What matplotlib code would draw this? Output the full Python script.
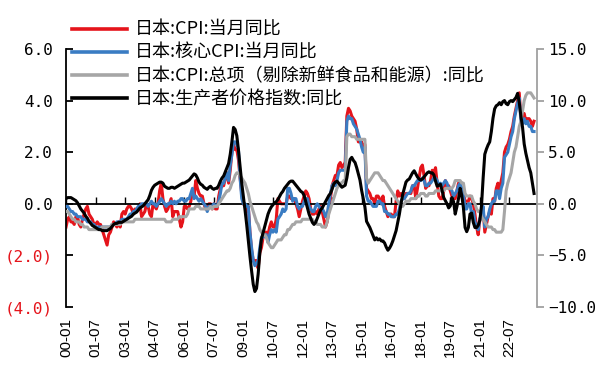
import numpy as np
import pandas as pd
import matplotlib
matplotlib.use("Agg")
import matplotlib.pyplot as plt
from matplotlib.lines import Line2D

# Monthly series, 2000-01 .. 2023-10 (year-on-year, %)
months = pd.period_range("2000-01", "2023-10", freq="M")

cpi = [
    -0.9, -0.6, -0.5, -0.7, -0.7, -0.8, -0.5, -0.5, -0.8, -0.9, -0.6, -0.4,   # 2000
    -0.2, -0.1, -0.4, -0.5, -0.6, -0.8, -0.8, -0.7, -0.8, -0.8, -1.0, -1.2,   # 2001
    -1.4, -1.6, -1.2, -1.1, -0.9, -0.7, -0.8, -0.9, -0.7, -0.9, -0.4, -0.3,   # 2002
    -0.4, -0.2, -0.1, -0.1, -0.2, -0.4, -0.2, -0.3, -0.2, 0.0, -0.5, -0.4,    # 2003
    -0.3, 0.0, -0.1, -0.4, -0.5, 0.0, -0.1, -0.2, 0.0, 0.5, 0.8, 0.2,         # 2004
    -0.1, -0.3, -0.2, 0.0, 0.2, -0.5, -0.3, -0.3, -0.3, -0.6, -0.9, -0.7,     # 2005
    -0.1, -0.1, -0.2, -0.1, 0.1, 0.5, 0.3, 0.9, 0.6, 0.4, 0.3, 0.3,           # 2006
    0.0, -0.2, -0.1, 0.0, 0.0, -0.2, 0.0, -0.2, -0.2, 0.3, 0.6, 0.7,          # 2007
    0.7, 1.0, 1.2, 0.8, 1.3, 2.0, 2.3, 2.1, 2.1, 1.7, 1.0, 0.4,               # 2008
    0.0, -0.1, -0.3, -0.1, -1.1, -1.8, -2.2, -2.2, -2.2, -2.5, -1.9, -1.7,    # 2009
    -1.3, -1.1, -1.1, -1.2, -0.9, -0.7, -0.9, -0.9, -0.6, 0.2, 0.1, 0.0,      # 2010
    0.0, 0.0, 0.0, 0.3, 0.3, 0.2, 0.2, 0.2, 0.0, -0.2, -0.5, -0.2,            # 2011
    0.1, 0.3, 0.5, 0.4, 0.2, -0.2, -0.4, -0.4, -0.3, -0.4, -0.2, -0.1,        # 2012
    -0.3, -0.6, -0.9, -0.7, -0.3, 0.2, 0.7, 0.9, 1.1, 1.1, 1.5, 1.6,          # 2013
    1.4, 1.5, 1.6, 3.4, 3.7, 3.6, 3.4, 3.3, 3.2, 2.9, 2.4, 2.4,               # 2014
    2.4, 2.2, 2.3, 0.6, 0.5, 0.4, 0.2, 0.2, 0.0, 0.3, 0.3, 0.2,               # 2015
    0.0, 0.3, -0.1, -0.3, -0.5, -0.4, -0.4, -0.5, -0.5, 0.1, 0.5, 0.3,        # 2016
    0.4, 0.3, 0.2, 0.4, 0.4, 0.4, 0.4, 0.7, 0.7, 0.2, 0.6, 1.0,               # 2017
    1.4, 1.5, 1.1, 0.6, 0.7, 0.7, 0.9, 1.3, 1.2, 1.4, 0.8, 0.3,               # 2018
    0.2, 0.2, 0.5, 0.9, 0.7, 0.7, 0.5, 0.3, 0.2, 0.2, 0.5, 0.8,               # 2019
    0.7, 0.4, 0.4, 0.1, 0.1, 0.1, 0.3, 0.2, 0.0, -0.4, -0.9, -1.2,            # 2020
    -0.6, -0.4, -0.2, -1.1, -0.8, -0.5, -0.3, -0.4, 0.2, 0.1, 0.6, 0.8,       # 2021
    0.5, 0.9, 1.2, 2.0, 2.2, 2.3, 2.5, 2.8, 3.0, 3.4, 3.7, 4.0,               # 2022
    4.3, 3.3, 3.2, 3.5, 3.2, 3.3, 3.3, 3.2, 3.0, 3.2,                         # 2023
]

core_cpi = [
    -0.1, -0.1, -0.2, -0.3, -0.3, -0.4, -0.4, -0.5, -0.5, -0.5, -0.6, -0.6,   # 2000
    -0.6, -0.7, -0.7, -0.7, -0.8, -0.8, -0.9, -0.9, -0.9, -0.9, -0.9, -0.9,   # 2001
    -0.9, -0.9, -0.9, -0.9, -0.8, -0.8, -0.8, -0.7, -0.7, -0.7, -0.6, -0.6,   # 2002
    -0.6, -0.6, -0.5, -0.4, -0.4, -0.3, -0.3, -0.2, -0.1, -0.1, 0.0, 0.0,     # 2003
    0.0, 0.0, -0.1, 0.0, 0.1, 0.0, 0.0, -0.1, 0.0, 0.1, 0.2, 0.1,             # 2004
    0.0, -0.1, 0.0, 0.0, 0.1, 0.0, 0.1, 0.0, 0.1, 0.1, 0.2, 0.2,              # 2005
    0.1, 0.1, 0.2, 0.2, 0.4, 0.6, 0.2, 0.3, 0.2, 0.1, 0.2, 0.1,               # 2006
    0.0, -0.1, -0.3, -0.1, -0.1, -0.1, 0.0, -0.1, -0.1, 0.1, 0.4, 0.8,        # 2007
    0.8, 1.0, 1.2, 0.9, 1.5, 1.9, 2.4, 2.4, 2.3, 2.1, 1.0, 0.2,               # 2008
    0.0, 0.0, -0.1, -0.1, -1.1, -1.7, -2.2, -2.4, -2.3, -2.2, -1.7, -1.3,     # 2009
    -1.3, -1.2, -1.2, -1.5, -1.2, -1.0, -1.1, -1.0, -1.1, -0.6, -0.5, -0.4,   # 2010
    -0.2, -0.3, -0.2, 0.6, 0.6, 0.4, 0.1, 0.2, 0.2, -0.1, -0.2, -0.1,         # 2011
    -0.1, 0.1, 0.2, 0.2, -0.1, -0.2, -0.3, -0.3, -0.1, 0.0, -0.1, -0.2,       # 2012
    -0.2, -0.3, -0.5, -0.4, 0.0, 0.4, 0.7, 0.8, 0.7, 0.9, 1.2, 1.3,           # 2013
    1.3, 1.3, 1.3, 3.2, 3.4, 3.3, 3.3, 3.1, 3.0, 2.9, 2.7, 2.5,               # 2014
    2.2, 2.0, 2.2, 0.3, 0.1, 0.1, 0.0, -0.1, -0.1, -0.1, 0.1, 0.1,            # 2015
    0.0, 0.0, -0.3, -0.3, -0.4, -0.4, -0.5, -0.5, -0.5, -0.4, -0.4, -0.2,     # 2016
    0.1, 0.2, 0.2, 0.3, 0.4, 0.4, 0.5, 0.7, 0.7, 0.8, 0.9, 0.9,               # 2017
    0.9, 1.0, 0.9, 0.7, 0.7, 0.8, 0.8, 0.9, 1.0, 1.0, 0.9, 0.7,               # 2018
    0.8, 0.7, 0.8, 0.9, 0.8, 0.6, 0.6, 0.5, 0.3, 0.4, 0.5, 0.7,               # 2019
    0.8, 0.6, 0.4, -0.2, -0.2, 0.0, 0.0, -0.4, -0.3, -0.7, -0.9, -1.0,        # 2020
    -0.6, -0.4, -0.1, -0.9, -0.6, -0.5, -0.2, 0.0, 0.1, 0.1, 0.5, 0.5,        # 2021
    0.2, 0.6, 0.8, 1.8, 1.9, 2.0, 2.3, 2.6, 2.8, 3.3, 3.6, 3.9,               # 2022
    4.1, 3.2, 3.1, 3.3, 3.1, 3.2, 3.0, 3.0, 2.8, 2.8,                         # 2023
]

cpi_ex_food_energy = [
    -0.3, -0.3, -0.4, -0.5, -0.6, -0.6, -0.7, -0.7, -0.7, -0.8, -0.8, -0.9,   # 2000
    -0.9, -0.9, -1.0, -1.0, -1.0, -1.0, -1.0, -1.0, -1.0, -1.0, -0.9, -0.9,   # 2001
    -0.9, -0.9, -0.9, -0.9, -0.8, -0.8, -0.8, -0.8, -0.8, -0.8, -0.7, -0.7,   # 2002
    -0.7, -0.7, -0.7, -0.7, -0.7, -0.7, -0.6, -0.6, -0.6, -0.6, -0.6, -0.6,   # 2003
    -0.6, -0.6, -0.6, -0.6, -0.6, -0.6, -0.6, -0.6, -0.6, -0.6, -0.6, -0.6,   # 2004
    -0.6, -0.7, -0.7, -0.7, -0.7, -0.6, -0.6, -0.6, -0.6, -0.5, -0.5, -0.5,   # 2005
    -0.5, -0.5, -0.4, -0.2, -0.2, -0.2, -0.2, -0.1, -0.1, -0.1, -0.2, -0.2,   # 2006
    -0.2, -0.2, -0.2, -0.2, -0.1, -0.2, -0.1, -0.1, -0.1, 0.0, 0.1, 0.2,      # 2007
    0.3, 0.4, 0.5, 0.5, 0.6, 0.8, 0.9, 1.1, 1.2, 1.2, 1.1, 1.0,               # 2008
    0.9, 0.8, 0.6, 0.4, 0.1, -0.1, -0.3, -0.5, -0.7, -0.8, -1.0, -1.1,        # 2009
    -1.2, -1.2, -1.3, -1.5, -1.6, -1.7, -1.7, -1.6, -1.5, -1.4, -1.4, -1.4,   # 2010
    -1.3, -1.2, -1.2, -1.0, -1.0, -0.9, -0.8, -0.8, -0.7, -0.7, -0.7, -0.7,   # 2011
    -0.6, -0.6, -0.6, -0.6, -0.6, -0.6, -0.6, -0.7, -0.7, -0.8, -0.8, -0.8,   # 2012
    -0.9, -0.9, -0.9, -0.7, -0.4, -0.2, 0.0, 0.2, 0.4, 0.6, 0.7, 0.8,         # 2013
    0.8, 0.9, 0.9, 2.6, 2.7, 2.7, 2.6, 2.6, 2.6, 2.5, 2.5, 2.5,               # 2014
    2.5, 2.5, 2.5, 1.0, 0.8, 0.9, 1.0, 1.1, 1.2, 1.2, 1.2, 1.1,               # 2015
    1.0, 0.9, 0.9, 0.8, 0.7, 0.6, 0.5, 0.4, 0.3, 0.2, 0.1, 0.0,               # 2016
    -0.1, -0.1, 0.0, 0.1, 0.1, 0.1, 0.2, 0.2, 0.2, 0.2, 0.3, 0.3,             # 2017
    0.4, 0.4, 0.4, 0.3, 0.3, 0.4, 0.4, 0.4, 0.4, 0.5, 0.5, 0.5,               # 2018
    0.5, 0.5, 0.5, 0.6, 0.6, 0.6, 0.6, 0.6, 0.7, 0.9, 0.9, 0.9,               # 2019
    0.9, 0.8, 0.8, 0.4, 0.3, 0.3, 0.3, 0.3, 0.1, 0.0, -0.2, -0.3,             # 2020
    -0.3, -0.5, -0.6, -0.7, -0.8, -0.9, -0.9, -0.9, -1.0, -1.0, -1.1, -1.1,   # 2021
    -1.1, -1.1, -1.0, -0.3, 0.5, 0.8, 1.0, 1.2, 1.6, 2.0, 2.2, 2.6,           # 2022
    3.0, 3.2, 3.6, 4.0, 4.2, 4.3, 4.3, 4.3, 4.2, 4.1,                         # 2023
]

ppi = [
    0.5, 0.6, 0.6, 0.6, 0.5, 0.4, 0.3, 0.1, -0.2, -0.5, -0.7, -0.9,           # 2000
    -1.2, -1.4, -1.7, -1.9, -2.1, -2.2, -2.3, -2.4, -2.5, -2.5, -2.6, -2.6,   # 2001
    -2.6, -2.6, -2.5, -2.4, -2.2, -2.0, -1.9, -1.9, -1.8, -1.8, -1.8, -1.7,   # 2002
    -1.6, -1.5, -1.4, -1.3, -1.2, -1.0, -0.9, -0.8, -0.6, -0.4, -0.3, -0.2,   # 2003
    0.0, 0.2, 0.4, 0.8, 1.3, 1.6, 1.8, 1.9, 2.0, 2.1, 2.1, 2.0,               # 2004
    1.7, 1.6, 1.5, 1.5, 1.6, 1.6, 1.5, 1.6, 1.7, 1.8, 1.9, 2.0,               # 2005
    2.0, 2.1, 2.2, 2.3, 2.5, 2.7, 2.9, 2.8, 2.5, 2.1, 1.9, 1.8,               # 2006
    1.6, 1.5, 1.4, 1.6, 1.7, 1.5, 1.4, 1.5, 1.5, 1.8, 2.2, 2.5,               # 2007
    2.7, 3.1, 3.5, 3.9, 4.8, 6.0, 7.4, 7.2, 6.6, 5.2, 3.6, 2.0,               # 2008
    0.7, -0.6, -2.0, -3.6, -5.1, -6.5, -7.8, -8.5, -8.2, -6.8, -4.8, -3.4,    # 2009
    -2.8, -2.2, -1.6, -1.0, -0.6, -0.3, -0.1, 0.1, 0.2, 0.4, 0.7, 1.0,        # 2010
    1.2, 1.5, 1.7, 1.9, 2.1, 2.2, 2.2, 2.0, 1.8, 1.6, 1.4, 1.2,               # 2011
    1.1, 0.8, 0.2, -0.4, -1.0, -1.4, -1.8, -2.0, -1.8, -1.4, -1.0, -0.6,      # 2012
    -0.4, -0.1, 0.2, 0.5, 0.8, 1.0, 1.4, 1.9, 2.1, 2.2, 2.0, 1.8,             # 2013
    1.6, 1.7, 1.8, 2.5, 3.5, 4.3, 4.5, 4.2, 4.0, 3.5, 2.9, 2.3,               # 2014
    1.3, 0.5, -0.3, -1.7, -2.0, -2.3, -2.7, -3.1, -3.5, -3.3, -3.5, -3.4,     # 2015
    -3.6, -3.6, -3.8, -4.2, -4.5, -4.3, -4.0, -3.6, -3.1, -2.6, -1.8, -1.0,   # 2016
    0.0, 0.9, 1.5, 2.1, 2.3, 2.4, 2.7, 3.0, 3.2, 2.9, 2.6, 2.4,               # 2017
    2.3, 2.4, 2.6, 2.8, 3.0, 3.1, 3.0, 3.0, 2.8, 2.2, 1.7, 1.8,               # 2018
    1.9, 1.3, 0.6, 0.3, 0.0, -0.4, -0.2, 0.6, 0.2, -1.0, -0.3, 0.5,           # 2019
    1.5, 0.8, -0.4, -2.3, -2.7, -2.3, -1.0, -0.9, -1.8, -2.3, -2.3, -2.1,     # 2020
    -1.6, -0.2, 2.5, 4.8, 5.3, 5.7, 6.0, 7.0, 8.3, 9.2, 9.5, 9.6,             # 2021
    9.8, 9.6, 9.9, 10.0, 9.7, 9.6, 9.9, 10.0, 9.9, 10.1, 10.3, 10.7,          # 2022
    9.8, 8.5, 7.4, 5.8, 4.9, 4.2, 3.5, 3.0, 2.0, 1.0,                         # 2023
]

tick_labels = ["00-01", "01-07", "03-01", "04-07", "06-01", "07-07", "09-01", "10-07",
               "12-01", "13-07", "15-01", "16-07", "18-01", "19-07", "21-01", "22-07"]

series_names = ["日本:CPI:当月同比", "日本:核心CPI:当月同比",
                "日本:CPI:总项（剔除新鲜食品和能源）:同比", "日本:生产者价格指数:同比"]

RED, BLUE, GRAY, BLACK = "#E5141B", "#3A7CC3", "#A6A6A6", "#000000"
CJK = ["Noto Sans CJK SC", "DejaVu Sans"]

x = np.arange(len(months))
month_keys = list(months.strftime("%y-%m"))
tick_pos = [month_keys.index(s) for s in tick_labels]

fig = plt.figure(figsize=(5.97, 3.65), dpi=100)
ax = fig.add_axes([0.1106, 0.1589, 0.7889, 0.7069])
ax2 = ax.twinx()

lw = 2.2
ax.plot(x, cpi, color=RED, lw=lw, zorder=2)
ax.plot(x, core_cpi, color=BLUE, lw=lw, zorder=3)
ax.plot(x, cpi_ex_food_energy, color=GRAY, lw=lw, zorder=4)
ax2.plot(x, ppi, color=BLACK, lw=lw, zorder=5)

ax.set_xlim(0, 286.8)
ax.set_ylim(-4, 6)
ax2.set_ylim(-10, 15)

# left axis
for s in ("top", "right"):
    ax.spines[s].set_visible(False)
ax.spines["left"].set_linewidth(1.3)
ax.spines["bottom"].set_position(("data", 0))
ax.spines["bottom"].set_linewidth(1.3)
yt = [-4, -2, 0, 2, 4, 6]
ax.set_yticks(yt, [f"({abs(v):.1f})" if v < 0 else f"{v:.1f}" for v in yt])
for lab, v in zip(ax.get_yticklabels(), yt):
    lab.set_color(RED if v < 0 else "black")
    lab.set_fontfamily("DejaVu Sans Mono")
    lab.set_fontsize(11.5)
ax.tick_params(axis="y", direction="in", length=5, width=1.3, pad=9.5)

ax.set_xticks(tick_pos)
ax.tick_params(axis="x", direction="in", length=5, width=1.0, labelbottom=False)

# date labels along the bottom edge
sec = ax.secondary_xaxis(0)
sec.set_xticks(tick_pos, tick_labels)
sec.spines["bottom"].set_visible(False)
sec.tick_params(axis="x", length=0, pad=8, labelrotation=90)
for lab in sec.get_xticklabels():
    lab.set_fontfamily("Liberation Sans")
    lab.set_fontsize(11)

# right axis
for s in ("top", "left", "bottom"):
    ax2.spines[s].set_visible(False)
ax2.spines["right"].set_color("#A0A0A0")
ax2.spines["right"].set_linewidth(1.3)
rt = [-10, -5, 0, 5, 10, 15]
ax2.set_yticks(rt, [f"{v:.1f}".replace("-", "\u2212") for v in rt])
for lab in ax2.get_yticklabels():
    lab.set_fontfamily("DejaVu Sans Mono")
    lab.set_fontsize(11.5)
ax2.tick_params(axis="y", direction="out", length=5, width=1.3, color="#A0A0A0", pad=3)

handles = [Line2D([], [], color=c, lw=2.6) for c in (RED, BLUE, GRAY, BLACK)]
ax2.legend(handles, series_names, loc="upper left", bbox_to_anchor=(72 / 597, 1 - 21 / 365),
           bbox_transform=fig.transFigure, frameon=False,
           prop={"family": CJK, "size": 13}, handlelength=3.05, handletextpad=0.45,
           labelspacing=0.28, borderpad=0, borderaxespad=0)

fig.savefig("out.png", dpi=100)
